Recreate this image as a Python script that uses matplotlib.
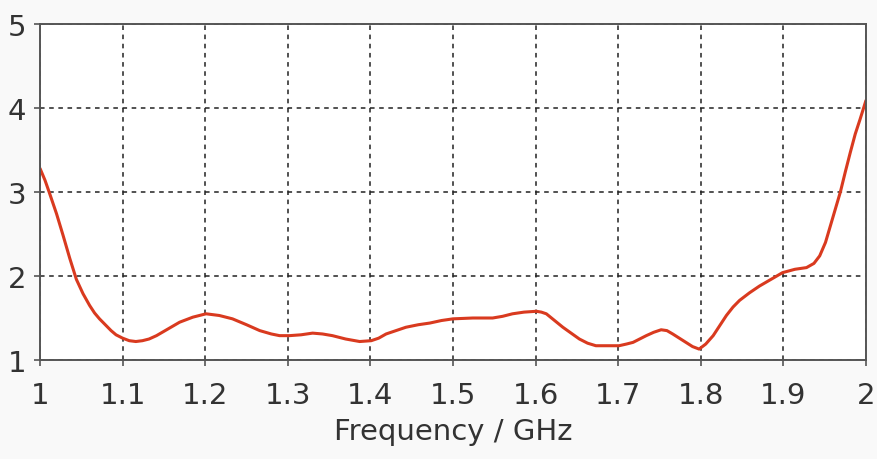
import matplotlib
matplotlib.use("Agg")
import matplotlib.pyplot as plt

# VSWR curve
freq = [1.000, 1.006, 1.011, 1.020, 1.028, 1.036, 1.044, 1.052, 1.060, 1.066,
        1.072, 1.080, 1.086, 1.092, 1.100, 1.108, 1.116, 1.124, 1.132, 1.141,
        1.155, 1.169, 1.185, 1.201, 1.217, 1.233, 1.250, 1.266, 1.280, 1.290,
        1.302, 1.316, 1.330, 1.342, 1.354, 1.370, 1.387, 1.401, 1.410, 1.419,
        1.431, 1.443, 1.458, 1.472, 1.486, 1.500, 1.524, 1.548, 1.560, 1.572,
        1.586, 1.601, 1.607, 1.613, 1.623, 1.633, 1.643, 1.653, 1.663, 1.673,
        1.687, 1.701, 1.710, 1.718, 1.726, 1.734, 1.743, 1.752, 1.759, 1.766,
        1.774, 1.782, 1.790, 1.798, 1.806, 1.815, 1.823, 1.831, 1.839, 1.847,
        1.859, 1.871, 1.885, 1.899, 1.914, 1.928, 1.937, 1.944, 1.951, 1.957,
        1.963, 1.969, 1.975, 1.981, 1.987, 1.993, 2.000]
vswr = [3.28, 3.14, 3.00, 2.74, 2.48, 2.21, 1.96, 1.79, 1.65, 1.56,
        1.49, 1.41, 1.35, 1.30, 1.26, 1.23, 1.22, 1.23, 1.25, 1.29,
        1.37, 1.45, 1.51, 1.55, 1.53, 1.49, 1.42, 1.35, 1.31, 1.29,
        1.29, 1.30, 1.32, 1.31, 1.29, 1.25, 1.22, 1.23, 1.26, 1.31,
        1.35, 1.39, 1.42, 1.44, 1.47, 1.49, 1.50, 1.50, 1.52, 1.55,
        1.57, 1.58, 1.57, 1.55, 1.47, 1.39, 1.32, 1.25, 1.20, 1.17,
        1.17, 1.17, 1.19, 1.21, 1.25, 1.29, 1.33, 1.36, 1.35, 1.31,
        1.26, 1.21, 1.16, 1.13, 1.19, 1.29, 1.41, 1.53, 1.63, 1.71,
        1.80, 1.88, 1.96, 2.04, 2.08, 2.10, 2.15, 2.24, 2.40, 2.60,
        2.80, 3.00, 3.24, 3.47, 3.69, 3.87, 4.09]

x_ticks = [1, 1.1, 1.2, 1.3, 1.4, 1.5, 1.6, 1.7, 1.8, 1.9, 2]
x_labels = ["1", "1.1", "1.2", "1.3", "1.4", "1.5", "1.6", "1.7", "1.8", "1.9", "2"]
y_ticks = [1, 2, 3, 4, 5]

fig = plt.figure(figsize=(8.78, 4.6), dpi=100, facecolor="#f9f9f9")
ax = fig.add_axes([0.0456, 0.2152, 0.9407, 0.7305])
ax.set_facecolor("white")

ax.plot(freq, vswr, color="#d93a1f", linewidth=2.2,
        solid_capstyle="round", solid_joinstyle="round")

ax.set_xlim(1, 2)
ax.set_ylim(1, 5)
ax.set_xticks(x_ticks)
ax.set_xticklabels(x_labels)
ax.set_yticks(y_ticks)

ax.grid(True, color="#222222", linestyle=(0, (3, 3)), linewidth=1.1)
for s in ax.spines.values():
    s.set_color("#555555")
    s.set_linewidth(1.4)

ax.tick_params(axis="x", direction="out", length=4, width=1.2, color="#555555",
               labelsize=21, pad=11, labelcolor="#333333")
ax.tick_params(axis="y", direction="out", length=4, width=1.2, color="#555555",
               labelsize=21, pad=6, labelcolor="#333333")

ax.set_xlabel("Frequency / GHz", fontsize=21, color="#333333", labelpad=6)

plt.savefig("out.png", dpi=100, facecolor=fig.get_facecolor())
